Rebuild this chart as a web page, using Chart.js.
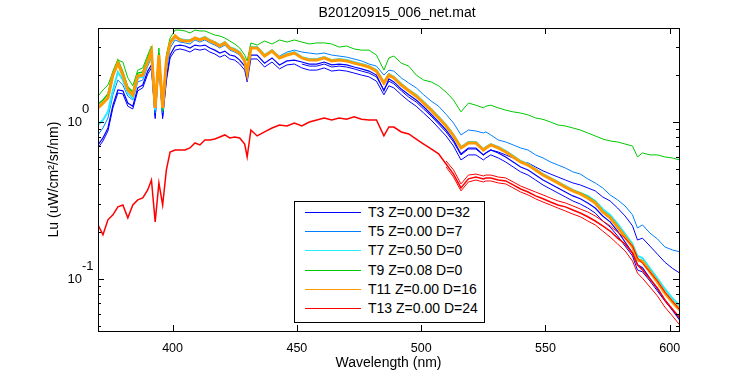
<!DOCTYPE html>
<html>
<head>
<meta charset="utf-8">
<script src="https://cdn.jsdelivr.net/npm/chart.js@4.4.0/dist/chart.umd.min.js"></script>
<style>
body { margin: 0; background: #fff; }
#wrap { position: relative; width: 750px; height: 375px; }
#legenda { position: absolute; left: 294px; top: 201px; width: 189px; height: 120px; border: 1px solid #000; background: #fff;
  font: 14px "Liberation Sans", Arial, sans-serif; color: #000; }
.item { position: absolute; left: 0; width: 189px; height: 19px; line-height: 19px; white-space: nowrap; }
.linha { position: absolute; left: 10px; top: 9px; width: 56px; height: 1px; }
.txt { position: absolute; left: 73px; top: 0; }
</style>
</head>
<body>
<div id="wrap">
  <canvas id="grafico" width="750" height="375"></canvas>
  <div id="legenda"></div>
</div>
<script>
// comprimentos de onda (nm)
var wavelength = [370,372,374,376,378,380,382,384,386,388,390,391.5,393,394.5,396,397.5,399,
  401,403,405,407,409,411,413,415,417,419,421,423,425,427,429,430,431.5,434,437,440,443,446,449,
  452,455,458,461,464,467,470,473,476,479,482,485,487,489,492,495,498,501,504,507,510,513,516,519,522,
  525,526,528,531,534,537,540,543,546,549,552,555,558,561,564,567,570,573,576,579,582,585,587,589,
  592,595,598,601,604];

// T3 (azul) - tres lancamentos
var t3 = [0.714,0.791,0.916,1.28,1.60,1.58,1.32,1.26,1.65,1.72,2.11,2.31,1.09,2.45,1.09,1.91,2.67,
  3.05,3.09,3.05,2.96,3.09,3.05,3.09,2.96,2.87,2.75,2.83,2.67,2.63,2.48,2.27,1.91,2.67,
  2.67,2.37,2.56,2.31,2.45,2.48,
  2.41,2.34,2.34,2.41,2.31,2.34,2.31,2.24,2.18,2.11,1.99,1.58,1.88,1.80,
  1.62,1.49,1.38,1.25,1.12,1.00,0.889,0.768,0.626,0.683,0.683,0.617,0.635,0.663,
  0.635,0.599,0.556,0.517,0.495,0.459,0.427,0.403,0.380,0.358,0.338,0.324,0.305,0.283,0.252,0.231,0.202,0.172,0.146,
  0.123,0.118,0.101,0.0865,0.0735,0.0635,0.0548];
var t3b = [0.683,0.757,0.876,1.23,1.53,1.51,1.26,1.21,1.58,1.65,2.02,2.21,1.05,2.34,1.05,1.82,2.56,
  2.87,2.92,2.87,2.79,2.92,2.87,2.92,2.79,2.71,2.59,2.67,2.52,2.48,2.34,2.14,1.80,2.52,2.52,2.24,2.41,2.18,2.31,2.34,
  2.21,2.14,2.14,2.21,2.11,2.14,2.11,2.05,1.99,1.94,1.82,1.49,1.70,1.65,1.49,1.36,1.26,1.14,1.03,0.916,0.815,0.703,0.573,0.617,0.617,
  0.573,0.590,0.617,0.590,0.556,0.517,0.481,0.459,0.427,0.397,0.374,0.353,0.333,0.314,0.300,0.283,0.263,0.234,0.214,0.188,0.162,0.140,
  0.114,0.111,0.0971,0.0839,0.0724,0.0635,0.0565];
// a partir de 452 nm
var t3c = [2.34,2.27,2.27,2.34,2.24,2.27,2.24,2.18,2.11,2.05,1.94,1.60,1.82,1.75,1.58,1.44,1.34,1.21,1.09,0.971,0.864,0.746,0.617,0.673,0.673,
  0.617,0.635,0.663,0.644,0.617,0.590,0.556,0.548,0.517,0.488,0.466,0.446,0.427,0.409,0.397,0.380,0.364,0.333,0.314,0.283,0.252,0.218,
  0.177,0.182,0.162,0.144,0.128,0.117,0.109];

// T5 (azul claro)
var t5 = [0.827,0.916,1.06,1.49,1.85,1.72,1.46,1.38,1.80,1.85,2.27,2.56,1.14,2.56,1.14,2.14,2.96,
  3.33,3.23,3.19,3.14,3.33,3.23,3.33,3.19,3.09,2.96,3.09,2.87,2.79,2.67,2.41,1.99,2.96,
  2.96,2.67,2.87,2.63,2.79,2.87,
  2.79,2.75,2.71,2.75,2.67,2.63,2.59,2.52,2.45,2.34,2.27,1.99,2.14,2.11,
  1.91,1.77,1.65,1.49,1.36,1.26,1.12,0.985,0.827,0.889,0.876,0.851,0.864,0.827,
  0.768,0.746,0.714,0.683,0.663,0.617,0.590,0.556,0.532,0.509,0.481,0.466,0.434,0.409,0.380,0.343,0.319,0.292,0.256,
  0.211,0.221,0.196,0.180,0.160,0.153,0.149];

// T7 (ciano)
var t7 = [0.957,1.03,1.16,1.60,2.08,1.85,1.53,1.42,1.91,1.94,2.37,2.71,1.19,2.59,1.19,2.37,3.14,
  3.48,3.38,3.33,3.33,3.43,3.38,3.48,3.33,3.23,3.09,3.23,3.00,2.92,2.79,2.48,2.08,3.00,
  3.00,2.67,2.87,2.59,2.71,2.79,
  2.59,2.52,2.52,2.59,2.48,2.52,2.48,2.41,2.34,2.27,2.14,1.80,2.02,1.94,
  1.75,1.60,1.49,1.34,1.21,1.08,0.957,0.827,0.693,0.746,0.746,0.673,0.693,0.724,
  0.693,0.654,0.608,0.564,0.540,0.502,0.466,0.440,0.415,0.391,0.369,0.353,0.338,0.314,0.279,0.256,0.224,0.194,0.167,
  0.140,0.136,0.117,0.101,0.0865,0.0756,0.0673];

// T9 (verde) - no feixe e a curva de cima
var t9 = [1.30,1.38,1.51,2.08,2.48,2.08,1.67,1.55,2.05,2.08,2.56,2.92,1.28,2.75,1.28,2.56,3.28,
  3.53,3.33,3.28,3.28,3.43,3.33,3.43,3.28,3.19,3.05,3.19,2.96,2.87,2.75,2.45,2.05,2.96,
  2.96,2.63,2.83,2.56,2.67,2.75,
  2.56,2.48,2.48,2.56,2.45,2.48,2.45,2.37,2.31,2.24,2.11,1.77,1.99,1.91,
  1.72,1.58,1.46,1.32,1.19,1.06,0.943,0.815,0.683,0.735,0.735,0.663,0.683,0.714,
  0.683,0.644,0.599,0.556,0.532,0.495,0.459,0.434,0.409,0.385,0.364,0.353,0.333,0.310,0.271,0.249,0.217,0.188,0.162,
  0.134,0.131,0.113,0.0971,0.0827,0.0724,0.0645];
var t9b = [1.46,1.60,1.72,2.08,2.48,2.41,1.91,1.70,2.14,2.21,2.67,3.05,1.23,2.96,1.17,2.67,3.43,
  3.85,3.85,3.80,3.69,3.85,3.80,3.80,3.69,3.58,3.53,3.43,3.28,3.14,2.96,2.67,2.45,3.19,
  3.09,3.28,3.14,3.33,3.23,3.33,
  3.23,3.14,3.19,3.19,3.14,3.00,3.05,2.92,2.87,2.87,2.67,2.14,2.56,2.63,
  2.37,2.27,1.99,1.85,1.80,1.70,1.55,1.38,1.16,1.32,1.28,1.23,1.26,1.28,
  1.23,1.19,1.16,1.14,1.11,1.06,1.04,1.00,0.957,0.943,0.916,0.889,0.851,0.815,0.779,0.757,0.746,0.724,0.703,
  0.599,0.635,0.617,0.617,0.599,0.590,0.573];

// T11 (laranja)
var t11 = [1.23,1.32,1.42,1.99,2.37,1.99,1.60,1.49,1.96,1.99,2.45,2.83,1.23,2.67,1.23,2.45,3.19,
  3.53,3.33,3.28,3.28,3.43,3.33,3.43,3.28,3.19,3.05,3.19,2.96,2.87,2.75,2.45,2.05,2.96,
  2.96,2.63,2.83,2.56,2.67,2.75,
  2.56,2.48,2.48,2.56,2.45,2.48,2.45,2.37,2.31,2.24,2.11,1.77,1.99,1.91,
  1.72,1.58,1.46,1.32,1.19,1.06,0.943,0.815,0.683,0.735,0.735,0.663,0.683,0.714,
  0.683,0.644,0.599,0.556,0.532,0.495,0.459,0.434,0.409,0.385,0.364,0.348,0.328,0.305,0.267,0.245,0.214,0.185,0.160,
  0.132,0.129,0.111,0.0957,0.0815,0.0714,0.0635];

// T13 (vermelho)
var t13 = [0.221,0.191,0.238,0.256,0.288,0.296,0.245,0.296,0.319,0.328,0.369,0.427,0.231,0.409,0.296,0.495,0.644,
  0.663,0.663,0.663,0.683,0.735,0.714,0.768,0.768,0.779,0.803,0.827,0.791,0.803,0.791,0.724,0.599,0.889,
  0.815,0.864,0.916,0.957,0.943,0.985,
  0.943,1.00,1.03,1.06,1.03,1.06,1.04,1.08,1.04,1.03,1.03,0.815,0.929,0.929,
  0.864,0.839,0.779,0.724,0.673,0.626,0.540,0.466,0.380,0.434,0.446,0.434,0.440,0.440,
  0.427,0.421,0.397,0.374,0.358,0.338,0.324,0.309,0.296,0.288,0.275,0.263,0.249,0.234,0.218,0.202,0.182,0.167,0.146,
  0.123,0.114,0.100,0.0877,0.0735,0.0644,0.0565];
// a partir de 510 nm
var t13b = [0.564,0.495,0.403,0.459,0.466,0.453,0.459,0.459,0.446,0.440,0.415,0.391,0.374,0.358,0.343,0.328,0.314,
  0.305,0.292,0.279,0.267,0.252,0.234,0.218,0.199,0.182,0.162,0.136,0.126,0.111,0.0971,0.0826,0.0724,0.0635];
var t13c = [0.517,0.446,0.364,0.415,0.427,0.415,0.421,0.421,0.409,0.403,0.380,0.358,0.343,0.324,0.309,0.296,0.283,
  0.271,0.259,0.249,0.234,0.221,0.202,0.185,0.167,0.151,0.130,0.109,0.101,0.0889,0.0780,0.0662,0.0582,0.0509];

var xTicks = [400, 450, 500, 550, 600];
var yMajor = [0.1, 1];
var yMinor = [0.05, 0.06, 0.07, 0.08, 0.09, 0.2, 0.3, 0.4, 0.5, 0.6, 0.7, 0.8, 0.9, 2, 3];

var fonte = '"Liberation Sans", Arial, sans-serif';

var legendaItens = [
  { nome: 'T3 Z=0.00 D=32', cor: '#0000ff' },
  { nome: 'T5 Z=0.00 D=7', cor: '#0080ff' },
  { nome: 'T7 Z=0.50 D=0', cor: '#22eeff' },
  { nome: 'T9 Z=0.08 D=0', cor: '#00c800' },
  { nome: 'T11 Z=0.00 D=16', cor: '#ff9900' },
  { nome: 'T13 Z=0.00 D=24', cor: '#ff0000' }
];

// curvas que comecam mais tarde ficam alinhadas ao fim do vetor de comprimentos
function pontos(valores) {
  var inicio = wavelength.length - valores.length;
  return valores.map(function (v, i) { return { x: wavelength[inicio + i], y: v }; });
}

function serie(valores, cor, largura) {
  return { data: pontos(valores), borderColor: cor, borderWidth: largura, fill: false, pointRadius: 0 };
}

// o primeiro conjunto fica por cima
var datasets = [
  serie(t13, '#ff0000', 1.5),
  serie(t13b, '#ff0000', 1),
  serie(t13c, '#ff0000', 1),
  serie(t11, '#ff9900', 3),
  serie(t9, '#00c800', 1.5),
  serie(t9b, '#00c800', 1),
  serie(t7, '#22eeff', 2),
  serie(t5, '#0080ff', 1),
  serie(t3, '#0000ff', 1.2),
  serie(t3b, '#0000ff', 1),
  serie(t3c, '#0000ff', 1)
];

// caixa, marcas para dentro, titulo e rotulos 10^n
var moldura = {
  id: 'moldura',
  afterDatasetsDraw: function (chart) {
    var c = chart.ctx, a = chart.chartArea, sx = chart.scales.x, sy = chart.scales.y;
    c.save();
    c.strokeStyle = '#000';
    c.lineWidth = 1;
    c.strokeRect(a.left + 0.5, a.top + 0.5, a.right - a.left, a.bottom - a.top);
    c.beginPath();
    xTicks.forEach(function (v) {
      var px = Math.round(sx.getPixelForValue(v)) + 0.5;
      c.moveTo(px, a.bottom); c.lineTo(px, a.bottom - 6);
      c.moveTo(px, a.top); c.lineTo(px, a.top + 6);
    });
    function marca(v, tam) {
      var py = Math.round(sy.getPixelForValue(v)) + 0.5;
      c.moveTo(a.left, py); c.lineTo(a.left + tam, py);
      c.moveTo(a.right, py); c.lineTo(a.right - tam, py);
    }
    yMajor.forEach(function (v) { marca(v, 6); });
    yMinor.forEach(function (v) { marca(v, 3); });
    c.stroke();

    c.fillStyle = '#000';
    c.textBaseline = 'middle';
    yMajor.forEach(function (v) {
      var py = sy.getPixelForValue(v);
      c.font = '13px ' + fonte;
      c.textAlign = 'right';
      c.fillText('10', a.left - 16, py);
      c.textAlign = 'left';
      c.fillText(String(Math.round(Math.log10(v))), a.left - 16, py - 13);
    });
    c.font = '14px ' + fonte;
    c.textAlign = 'center';
    c.fillText('B20120915_006_net.mat', 397, 13);
    c.restore();
  }
};

var ctx = document.getElementById('grafico').getContext('2d');
var myChart = new Chart(ctx, {
  type: 'line',
  data: { datasets: datasets },
  options: {
    responsive: false,
    animation: false,
    devicePixelRatio: 1,
    layout: { padding: { top: 28, right: 71, bottom: 0, left: 0 } },
    plugins: { legend: { display: false }, tooltip: { enabled: false } },
    elements: { line: { tension: 0 } },
    scales: {
      x: {
        type: 'linear', min: 370, max: 603.7,
        afterBuildTicks: function (s) { s.ticks = xTicks.map(function (v) { return { value: v }; }); },
        afterFit: function (s) { s.height = 44; },
        grid: { display: false, drawTicks: false },
        border: { display: false },
        ticks: { color: '#000', font: { size: 12.5, family: fonte }, padding: 10, maxRotation: 0, autoSkip: false },
        title: { display: true, text: 'Wavelength (nm)', color: '#000', font: { size: 14, family: fonte }, padding: { top: 3, bottom: 3 } }
      },
      y: {
        type: 'logarithmic', min: 0.0466, max: 3.97,
        afterBuildTicks: function (s) { s.ticks = yMajor.concat(yMinor).map(function (v) { return { value: v }; }); },
        afterFit: function (s) { s.width = 98; },
        grid: { display: false, drawTicks: false },
        border: { display: false },
        ticks: { display: false },
        title: { display: true, text: 'Lu (uW/cm²/sr/nm)', color: '#000', font: { size: 14, family: fonte }, padding: { top: 46, bottom: 0 } }
      }
    }
  },
  plugins: [moldura]
});

// legenda dentro do grafico
var legenda = document.getElementById('legenda');
legendaItens.forEach(function (it, i) {
  var d = document.createElement('div');
  d.className = 'item';
  d.style.top = Math.round(1 + i * 19.2) + 'px';
  d.innerHTML = '<span class="linha" style="background:' + it.cor + '"></span><span class="txt"></span>';
  d.querySelector('.txt').textContent = it.nome;
  legenda.appendChild(d);
});
</script>
</body>
</html>
